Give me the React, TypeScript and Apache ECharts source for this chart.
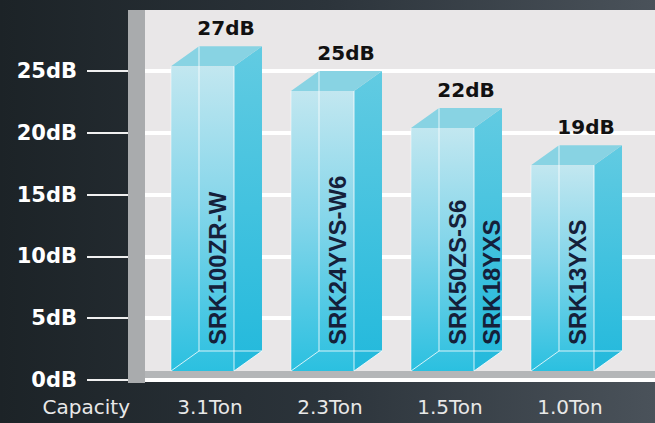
import { useEffect, useRef } from 'react';
import * as echarts from 'echarts';

const capacities = ['3.1Ton', '2.3Ton', '1.5Ton', '1.0Ton'];
const noiseDb = [27, 25, 22, 19];
const models = ['SRK100ZR-W', 'SRK24YVS-W6', 'SRK50ZS-S6\nSRK18YXS', 'SRK13YXS'];
const axisTitle = 'Capacity';
const unit = 'dB';

export default function App() {
  const ref = useRef<HTMLDivElement>(null);
  useEffect(() => {
    document.body.style.margin = '0';
    const chart = echarts.init(ref.current!, null, { renderer: 'svg' });
    const W = 655;
    const H = 423;
    const frontGrad = new echarts.graphic.LinearGradient(0, 0, 0, 1, [
      { offset: 0, color: '#c2e7f0' },
      { offset: 0.45, color: '#86d6ea' },
      { offset: 1, color: '#2bc0e0' },
    ]);
    const sideGrad = new echarts.graphic.LinearGradient(0, 0, 0, 1, [
      { offset: 0, color: '#62cbe2' },
      { offset: 1, color: '#22b9dc' },
    ]);
    const edge = { stroke: 'rgba(255,255,255,0.8)', lineWidth: 1, fill: null };
    const option: any = {
      animation: false,
      graphic: [
        {
          type: 'rect', z: -10,
          shape: { x: 0, y: 0, width: W, height: H },
          style: {
            fill: new echarts.graphic.LinearGradient(0, 0, 1, 0, [
              { offset: 0, color: '#1c2327' },
              { offset: 0.5, color: '#2c343b' },
              { offset: 1, color: '#4a525a' },
            ]),
          },
        },
        { type: 'rect', z: -9, shape: { x: 145, y: 10, width: 510, height: 370 }, style: { fill: '#e9e7e8' } },
        { type: 'rect', z: 1, shape: { x: 128, y: 10, width: 17, height: 373 }, style: { fill: '#a9abad' } },
        { type: 'rect', z: -8, shape: { x: 145, y: 371, width: 510, height: 8 }, style: { fill: '#b4b6b8' } },
      ],
      grid: [
        { left: 145, right: 0, top: 71, bottom: 43 },
        { left: 150, right: 25, top: 71, bottom: 43 },
      ],
      xAxis: [
        { type: 'value', gridIndex: 0, show: false, min: 0, max: 1 },
        {
          type: 'category', gridIndex: 1, data: capacities,
          axisLine: { show: false }, axisTick: { show: false },
          axisLabel: { color: '#e8e8e8', fontSize: 20, fontFamily: 'DejaVu Sans', margin: 17 },
          name: axisTitle, nameLocation: 'start', nameGap: 20,
          nameTextStyle: { color: '#e8e8e8', fontSize: 20, fontFamily: 'DejaVu Sans', verticalAlign: 'top', padding: [17, 0, 0, 0] },
        },
      ],
      yAxis: [
        {
          type: 'value', gridIndex: 0, min: 0, max: 25, interval: 5,
          axisLine: { show: false },
          axisTick: { show: true, length: 58, lineStyle: { color: '#f0f0f0', width: 2 } },
          axisLabel: {
            margin: 68, color: '#ffffff', fontWeight: 'bold', fontSize: 21, fontFamily: 'DejaVu Sans',
            formatter: (v: number) => `${v}${unit}`,
          },
          splitLine: { show: true, lineStyle: { color: '#ffffff', width: 4 } },
        },
        { type: 'value', gridIndex: 1, min: 0, max: 25, show: false },
      ],
      series: [
        {
          type: 'custom',
          xAxisIndex: 1,
          yAxisIndex: 1,
          clip: false,
          data: noiseDb.map((v, i) => [i, v]),
          encode: { x: 0, y: 1 },
          renderItem: (params: any, api: any) => {
            const idx = api.value(0);
            const val = api.value(1);
            const top = api.coord([idx, val]);
            const base = api.coord([idx, 0]);
            const cx = top[0];
            const yTop = top[1];
            const y0 = base[1];
            const fw = 63;
            const dx = 28;
            const dy = 20;
            const fl = cx - 39;
            const fr = fl + fw;
            const ft = yTop + dy;
            const fb = y0 - 9;
            const bb = fb - dy;
            return {
              type: 'group',
              children: [
                { type: 'polygon', shape: { points: [[fr, ft], [fr + dx, yTop], [fr + dx, bb], [fr, fb]] }, style: { fill: sideGrad } },
                { type: 'polygon', shape: { points: [[fl, ft], [fl + dx, yTop], [fr + dx, yTop], [fr, ft]] }, style: { fill: '#88d3e3' } },
                { type: 'rect', shape: { x: fl, y: ft, width: fw, height: fb - ft }, style: { fill: frontGrad } },
                { type: 'polyline', shape: { points: [[fl + dx, yTop], [fl + dx, bb], [fr + dx, bb]] }, style: edge },
                { type: 'line', shape: { x1: fl, y1: fb, x2: fl + dx, y2: bb }, style: edge },
                { type: 'line', shape: { x1: fr, y1: fb, x2: fr + dx, y2: bb }, style: edge },
                { type: 'line', shape: { x1: fr, y1: ft, x2: fr, y2: fb }, style: edge },
                { type: 'line', shape: { x1: fl, y1: ft, x2: fl, y2: fb }, style: { stroke: 'rgba(255,255,255,0.5)', lineWidth: 1 } },
                {
                  type: 'text', x: cx - 10, y: y0 - 35, rotation: Math.PI / 2,
                  style: {
                    text: models[params.dataIndex], fill: '#15203a', fontSize: 24, fontWeight: 'bold',
                    fontFamily: 'Liberation Sans', align: 'left', verticalAlign: 'top', lineHeight: 34,
                  },
                },
                {
                  type: 'text', x: cx + 16, y: yTop - 18,
                  style: {
                    text: `${val}${unit}`, fill: '#111111', fontSize: 20, fontWeight: 'bold',
                    fontFamily: 'DejaVu Sans', align: 'center', verticalAlign: 'middle',
                  },
                },
              ],
            };
          },
        },
      ],
    };
    chart.setOption(option);
    return () => chart.dispose();
  }, []);
  return <div ref={ref} style={{ width: 655, height: 423 }} />;
}
